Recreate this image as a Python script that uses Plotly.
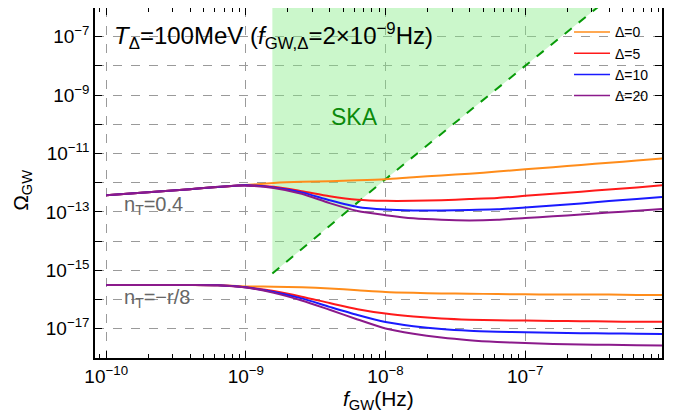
import plotly.graph_objects as go

# ---------------- data (log10 values) ----------------
log_f = [-10.0, -9.8, -9.6, -9.4, -9.2, -9.0, -8.8, -8.6, -8.4, -8.2, -8.0,
         -7.8, -7.6, -7.4, -7.2, -7.0, -6.8, -6.6, -6.4, -6.2, -6.02]

# n_T = 0.4 family
up_d0  = [-12.43, -12.36, -12.29, -12.22, -12.15, -12.08, -12.01, -11.97, -11.95, -11.92, -11.88,
          -11.81, -11.75, -11.69, -11.62, -11.54, -11.47, -11.39, -11.32, -11.24, -11.17]
up_d5  = [-12.43, -12.36, -12.29, -12.22, -12.15, -12.09, -12.14, -12.29, -12.46, -12.58, -12.62,
          -12.62, -12.60, -12.56, -12.52, -12.45, -12.38, -12.31, -12.23, -12.16, -12.09]
up_d10 = [-12.43, -12.36, -12.29, -12.22, -12.15, -12.09, -12.16, -12.33, -12.60, -12.83, -12.92,
          -12.95, -12.95, -12.93, -12.91, -12.85, -12.78, -12.71, -12.63, -12.56, -12.49]
up_d20 = [-12.43, -12.36, -12.29, -12.22, -12.14, -12.10, -12.18, -12.38, -12.70, -12.97, -13.11,
          -13.22, -13.27, -13.29, -13.27, -13.21, -13.15, -13.09, -13.02, -12.96, -12.90]

# n_T = -r/8 family
lo_d0  = [-15.50, -15.50, -15.50, -15.50, -15.51, -15.55, -15.56, -15.58, -15.62, -15.68, -15.74,
          -15.77, -15.79, -15.80, -15.81, -15.82, -15.83, -15.83, -15.83, -15.84, -15.84]
lo_d5  = [-15.50, -15.50, -15.50, -15.50, -15.51, -15.58, -15.71, -15.90, -16.12, -16.33, -16.48,
          -16.58, -16.65, -16.69, -16.71, -16.72, -16.73, -16.74, -16.75, -16.76, -16.76]
lo_d10 = [-15.50, -15.50, -15.50, -15.50, -15.51, -15.58, -15.74, -15.96, -16.25, -16.53, -16.77,
          -16.91, -17.01, -17.07, -17.10, -17.12, -17.14, -17.15, -17.16, -17.17, -17.18]
lo_d20 = [-15.50, -15.50, -15.50, -15.50, -15.51, -15.59, -15.77, -16.03, -16.35, -16.68, -16.99,
          -17.17, -17.30, -17.39, -17.45, -17.49, -17.52, -17.54, -17.55, -17.56, -17.57]

# SKA sensitivity line
ska_log_f = [-8.81, -8.0, -7.0, -6.3]
ska_log_om = [-15.11, -11.88, -8.0, -5.3]

labels = ["Δ=0", "Δ=5", "Δ=10", "Δ=20"]
colors = ["#ff8c1a", "#ff1a1a", "#1a1aff", "#8b1a8b"]

x_tick_exp = [-10, -9, -8, -7]
y_tick_exp = [-18, -17, -16, -15, -14, -13, -12, -11, -10, -9, -8, -7, -6]

# ---------------- figure ----------------
def p(v):
    return [10 ** a for a in v]

f = p(log_f)
fig = go.Figure()

# SKA region
ska_f = p(ska_log_f)
ska_om = p(ska_log_om)
fig.add_trace(go.Scatter(
    x=ska_f + [ska_f[0]], y=ska_om + [ska_om[-1]],
    fill="toself", fillcolor="rgba(130,235,130,0.42)", mode="none",
    showlegend=False, hoverinfo="skip"))
fig.add_trace(go.Scatter(
    x=ska_f, y=ska_om, mode="lines",
    line=dict(color="#079a07", width=2, dash="dash"),
    showlegend=False, hoverinfo="skip"))

for series, col in zip([up_d0, up_d5, up_d10, up_d20], colors):
    fig.add_trace(go.Scatter(x=f, y=p(series), mode="lines", showlegend=False,
                             line=dict(color=col, width=2, shape="spline", smoothing=0.7)))
for series, col in zip([lo_d0, lo_d5, lo_d10, lo_d20], colors):
    fig.add_trace(go.Scatter(x=f, y=p(series), mode="lines", showlegend=False,
                             line=dict(color=col, width=2, shape="spline", smoothing=0.7)))
# legend entries (thin lines)
for lab, col in zip(labels, colors):
    fig.add_trace(go.Scatter(x=[None], y=[None], mode="lines", name=lab,
                             line=dict(color=col, width=1.5)))

minor_x = [m * 10 ** e for e in range(-11, -5) for m in range(2, 10)]

# page body has an 8px default margin -> figure sized/placed to compensate
fig.update_layout(
    width=668, height=412,
    margin=dict(l=87, r=14, t=0, b=62, autoexpand=False),
    paper_bgcolor="white", plot_bgcolor="white",
    font=dict(family="Liberation Sans, Arial, sans-serif", color="black", size=19),
    legend=dict(x=0.836, y=0.976, xanchor="left", yanchor="top",
                bgcolor="rgba(0,0,0,0)", font=dict(size=14), tracegroupgap=0,
                itemwidth=36),
    xaxis=dict(
        type="log", range=[-10.08, -6.02], automargin=False,
        tickvals=[10 ** e for e in x_tick_exp],
        ticktext=[f"10<sup>−{-e}</sup>" for e in x_tick_exp],
        ticks="inside", ticklen=7, tickcolor="black",
        showline=True, linecolor="black", linewidth=1.5, mirror="ticks",
        showgrid=True, gridcolor="#9a9a9a", griddash="dash", gridwidth=1,
        zeroline=False,
        minor=dict(tickvals=minor_x, ticks="inside", ticklen=4, tickcolor="black",
                   showgrid=False),
    ),
    yaxis=dict(
        type="log", range=[-18.0, -6.02], automargin=False,
        tickvals=[10 ** e for e in y_tick_exp],
        ticktext=[(f"10<sup>−{-e}</sup>" if e % 2 else "") for e in y_tick_exp],
        ticks="inside", ticklen=7, tickcolor="black",
        showline=True, linecolor="black", linewidth=1.5, mirror="ticks",
        showgrid=True, gridcolor="#9a9a9a", griddash="dash", gridwidth=1,
        zeroline=False,
    ),
)

# axis titles
fig.add_annotation(xref="paper", yref="paper", x=0.5, y=-0.12, xanchor="center", yanchor="middle",
                   text="<i>f</i><sub>GW</sub>(Hz)", showarrow=False, font=dict(size=21))
fig.add_annotation(xref="paper", yref="paper", x=-0.129, y=0.48, xanchor="center", yanchor="middle",
                   text="Ω<sub>GW</sub>", textangle=-90, showarrow=False, font=dict(size=21))

fig.add_annotation(xref="paper", yref="paper", x=0.03, y=0.92, xanchor="left", yanchor="middle",
                   text="<i>T</i><sub>Δ</sub>=100MeV (<i>f</i><sub>GW,Δ</sub>=2×10<sup>−9</sup>Hz)",
                   showarrow=False, font=dict(size=24, color="black"))
fig.add_annotation(x=-8.225, y=-9.74, xanchor="center", yanchor="middle", text="SKA",
                   showarrow=False, font=dict(size=23, color="#0b8a0b"))
fig.add_annotation(x=-9.885, y=-12.79, xanchor="left", yanchor="middle",
                   text="n<sub>T</sub>=0.4", showarrow=False, font=dict(size=20, color="#666666"))
fig.add_annotation(x=-9.89, y=-15.96, xanchor="left", yanchor="middle",
                   text="n<sub>T</sub>=−r/8", showarrow=False, font=dict(size=20, color="#666666"))

fig.write_html("out.html")
